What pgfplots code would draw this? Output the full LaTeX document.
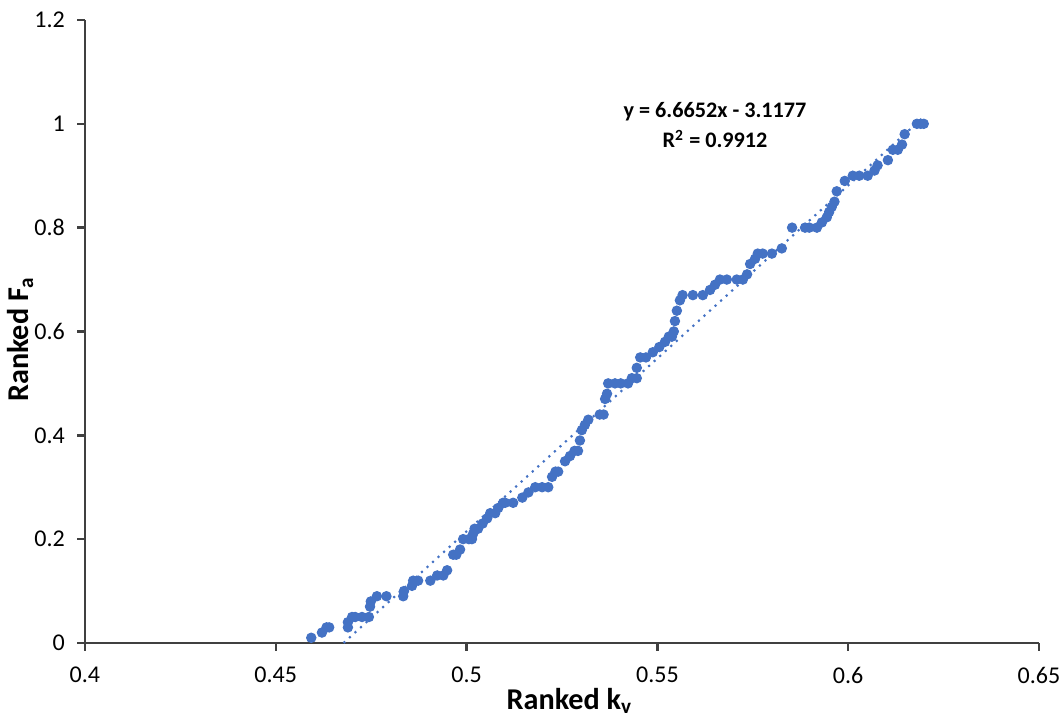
\documentclass[border=0pt]{standalone}
\usepackage{pgfplots}
\pgfplotsset{compat=1.18}
\usepackage{fontspec}
\setmainfont{Carlito}
\definecolor{xblue}{HTML}{4472C4}
\definecolor{axgray}{HTML}{404040}
\begin{document}
\begin{tikzpicture}
\begin{axis}[
  scale only axis,
  width=12.553cm, height=8.197cm,
  xmin=0.4, xmax=0.65, ymin=0, ymax=1.2,
  xtick={0.4,0.45,0.5,0.55,0.6,0.65},
  xticklabels={0.4,0.45,0.5,0.55,0.6,0.65},
  ytick={0,0.2,0.4,0.6,0.8,1,1.2},
  yticklabels={0,0.2,0.4,0.6,0.8,1,1.2},
  axis lines=left,
  axis line style={-, axgray, line width=0.9pt},
  tick style={axgray, line width=0.9pt},
  tick align=outside,
  major tick length=0.1cm,
  xtick pos=bottom, ytick pos=left,
  ticklabel style={font=\fontsize{9}{10}\selectfont, text=black},
  yticklabel style={xshift=-0.04cm},
  xticklabel style={yshift=-0.09cm},
  xlabel={\textbf{Ranked k\textsubscript{v}}},
  ylabel={\textbf{Ranked F\textsubscript{a}}},
  label style={font=\fontsize{11.3}{13}\selectfont},
  xlabel style={at={(axis description cs:0.5,0)}, anchor=center, yshift=-0.76cm, xshift=0.1cm},
  ylabel style={at={(axis description cs:0,0.5)}, anchor=center, yshift=0.85cm, xshift=-0.1cm},
  clip=false,
]
\addplot[only marks, mark=*, mark size=1.75pt, mark options={fill=xblue, draw=xblue}] coordinates {
(0.4593,0.01)(0.4621,0.02)(0.4633,0.03)(0.4640,0.03)(0.4689,0.03)(0.4689,0.04)
(0.4700,0.05)(0.4708,0.05)(0.4726,0.05)(0.4744,0.05)(0.4747,0.07)(0.4749,0.08)
(0.4765,0.09)(0.4790,0.09)(0.4834,0.09)(0.4836,0.10)(0.4857,0.11)(0.4860,0.12)
(0.4873,0.12)(0.4905,0.12)(0.4923,0.13)(0.4939,0.13)(0.4949,0.14)(0.4965,0.17)
(0.4973,0.17)(0.4983,0.18)(0.4991,0.20)(0.5006,0.20)(0.5014,0.20)(0.5017,0.21)
(0.5021,0.22)(0.5030,0.22)(0.5042,0.23)(0.5054,0.24)(0.5062,0.25)(0.5075,0.25)
(0.5083,0.26)(0.5096,0.27)(0.5101,0.27)(0.5122,0.27)(0.5146,0.28)(0.5162,0.29)
(0.5180,0.30)(0.5198,0.30)(0.5214,0.30)(0.5224,0.32)(0.5233,0.33)(0.5240,0.33)
(0.5258,0.35)(0.5271,0.36)(0.5283,0.37)(0.5292,0.37)(0.5297,0.39)(0.5302,0.41)
(0.5310,0.42)(0.5319,0.43)(0.5349,0.44)(0.5359,0.44)(0.5363,0.47)(0.5368,0.48)
(0.5371,0.50)(0.5389,0.50)(0.5404,0.50)(0.5423,0.50)(0.5433,0.51)(0.5446,0.51)
(0.5446,0.53)(0.5455,0.55)(0.5470,0.55)(0.5488,0.56)(0.5505,0.57)(0.5520,0.58)
(0.5530,0.59)(0.5538,0.59)(0.5543,0.60)(0.5546,0.62)(0.5551,0.64)(0.5559,0.66)
(0.5566,0.67)(0.5593,0.67)(0.5619,0.67)(0.5638,0.68)(0.5651,0.69)(0.5664,0.70)
(0.5682,0.70)(0.5708,0.70)(0.5724,0.70)(0.5735,0.71)(0.5743,0.73)(0.5756,0.74)
(0.5763,0.75)(0.5776,0.75)(0.5800,0.75)(0.5826,0.76)(0.5853,0.80)(0.5887,0.80)
(0.5898,0.80)(0.5918,0.80)(0.5931,0.81)(0.5944,0.82)(0.5950,0.83)(0.5957,0.84)
(0.5964,0.85)(0.5970,0.87)(0.5991,0.89)(0.6012,0.90)(0.6029,0.90)(0.6051,0.90)
(0.6069,0.91)(0.6077,0.92)(0.6104,0.93)(0.6117,0.95)(0.6130,0.95)(0.6141,0.96)
(0.6148,0.98)(0.6180,1.00)(0.6190,1.00)(0.6198,1.00)
};
\addplot[xblue, line width=0.8pt, dotted, no marks] coordinates {(0.46776,0) (0.6198,1.0134)};
\node[font=\bfseries\fontsize{8.3}{11.5}\selectfont, align=center] at (axis cs:0.5651,0.9977) {y = 6.6652x - 3.1177\\R\textsuperscript{2} = 0.9912};
\end{axis}
\pgfresetboundingbox
\path ([xshift=-1.118cm,yshift=-0.974cm]current axis.south west) rectangle ([xshift=0.329cm,yshift=0.263cm]current axis.north east);
\end{tikzpicture}
\end{document}
